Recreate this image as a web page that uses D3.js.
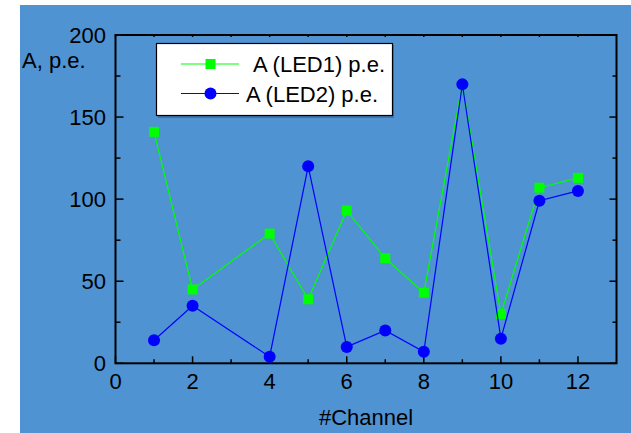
<!DOCTYPE html>
<html>
<head>
<meta charset="utf-8">
<script src="https://cdn.jsdelivr.net/npm/d3@7"></script>
<style>
  html, body { margin: 0; padding: 0; background: #ffffff; }
  svg { display: block; font-family: "Liberation Sans", Arial, sans-serif; }
</style>
</head>
<body>
<svg id="chart" width="631" height="433"></svg>
<script>
// Amplitude per channel for the two LEDs
const channels = [1, 2, 4, 5, 6, 7, 8, 9, 10, 11, 12];
const led1 = [141, 45, 79, 39, 93, 64, 43, 170, 30, 107, 113];
const led2 = [14, 35, 4, 120, 10, 20, 7, 170, 15, 99, 105];
const xTicks = [0, 2, 4, 6, 8, 10, 12];
const yTicks = [0, 50, 100, 150, 200];
const seriesNames = ["A (LED1) p.e.", "A (LED2) p.e."];

const svg = d3.select("#chart");
const bg = "#4f93d3";

svg.append("rect").attr("x", 20).attr("y", 5).attr("width", 611).attr("height", 428).attr("fill", bg);

const x = d3.scaleLinear().domain([0, 13]).range([115.5, 616.5]);
const y = d3.scaleLinear().domain([0, 200]).range([363.3, 35]);

const axisColor = "#000";
const minorX = d3.range(1, 13, 2);
const minorY = d3.range(25, 200, 50);

// Frame
svg.append("rect")
  .attr("x", x(0)).attr("y", y(200))
  .attr("width", x(13) - x(0)).attr("height", y(0) - y(200))
  .attr("fill", "none").attr("stroke", axisColor).attr("stroke-width", 2);

// Inward tick marks on all four sides
const tickG = svg.append("g").attr("stroke", axisColor).attr("stroke-width", 1.5);
xTicks.forEach(v => {
  tickG.append("line").attr("x1", x(v)).attr("x2", x(v)).attr("y1", y(0)).attr("y2", y(0) - 7);
  tickG.append("line").attr("x1", x(v)).attr("x2", x(v)).attr("y1", y(200)).attr("y2", y(200) + 2);
});
minorX.forEach(v => {
  tickG.append("line").attr("x1", x(v)).attr("x2", x(v)).attr("y1", y(0)).attr("y2", y(0) - 4);
  tickG.append("line").attr("x1", x(v)).attr("x2", x(v)).attr("y1", y(200)).attr("y2", y(200) + 2);
});
yTicks.forEach(v => {
  tickG.append("line").attr("x1", x(0)).attr("x2", x(0) + 8).attr("y1", y(v)).attr("y2", y(v));
  tickG.append("line").attr("x1", x(13)).attr("x2", x(13) - 7).attr("y1", y(v)).attr("y2", y(v));
});
minorY.forEach(v => {
  tickG.append("line").attr("x1", x(0)).attr("x2", x(0) + 5).attr("y1", y(v)).attr("y2", y(v));
  tickG.append("line").attr("x1", x(13)).attr("x2", x(13) - 4).attr("y1", y(v)).attr("y2", y(v));
});

// Tick labels
svg.append("g").selectAll("text").data(xTicks).join("text")
  .attr("x", d => x(d)).attr("y", 389)
  .attr("text-anchor", "middle").attr("font-size", 22).attr("fill", "#000")
  .text(d => d);
svg.append("g").selectAll("text").data(yTicks).join("text")
  .attr("x", 106).attr("y", d => y(d) + 7.5)
  .attr("text-anchor", "end").attr("font-size", 22).attr("fill", "#000")
  .text(d => d);

// Axis titles
svg.append("text").attr("x", 22).attr("y", 68).attr("font-size", 22).attr("fill", "#000").text("A, p.e.");
svg.append("text").attr("x", (x(0) + x(13)) / 2).attr("y", 425)
  .attr("text-anchor", "middle").attr("font-size", 22).attr("fill", "#000").text("#Channel");

// Series
const line = d3.line().x(d => x(d[0])).y(d => y(d[1]));
const d1 = channels.map((c, i) => [c, led1[i]]);
const d2 = channels.map((c, i) => [c, led2[i]]);

svg.append("path").datum(d1).attr("d", line).attr("fill", "none").attr("stroke", "#00ff00").attr("stroke-width", 1.2);
svg.append("g").selectAll("rect").data(d1).join("rect")
  .attr("x", d => x(d[0]) - 5).attr("y", d => y(d[1]) - 5)
  .attr("width", 10).attr("height", 10).attr("fill", "#00ff00");

svg.append("path").datum(d2).attr("d", line).attr("fill", "none").attr("stroke", "#0000ff").attr("stroke-width", 1.2);
svg.append("g").selectAll("circle").data(d2).join("circle")
  .attr("cx", d => x(d[0])).attr("cy", d => y(d[1])).attr("r", 6).attr("fill", "#0000ff");

// Legend
const lg = svg.append("g");
lg.append("rect").attr("x", 158).attr("y", 45).attr("width", 236).attr("height", 73).attr("fill", "#2f5f8f").attr("opacity", 0.6);
lg.append("rect").attr("x", 156.5).attr("y", 43.5).attr("width", 236).attr("height", 72)
  .attr("fill", "#fff").attr("stroke", "#000").attr("stroke-width", 1.2);

const entries = [
  { name: seriesNames[0], color: "#00ff00", shape: "square", cy: 64, tx: 253 },
  { name: seriesNames[1], color: "#0000ff", shape: "circle", cy: 93.5, tx: 246 }
];
entries.forEach(e => {
  lg.append("line").attr("x1", 181).attr("x2", 239).attr("y1", e.cy).attr("y2", e.cy)
    .attr("stroke", e.color).attr("stroke-width", 1.2);
  if (e.shape === "square") {
    lg.append("rect").attr("x", 205.5).attr("y", e.cy - 5).attr("width", 10).attr("height", 10).attr("fill", e.color);
  } else {
    lg.append("circle").attr("cx", 210.5).attr("cy", e.cy).attr("r", 6).attr("fill", e.color);
  }
  lg.append("text").attr("x", e.tx).attr("y", e.cy + 8).attr("font-size", 22).attr("fill", "#000").text(e.name);
});
</script>
</body>
</html>
